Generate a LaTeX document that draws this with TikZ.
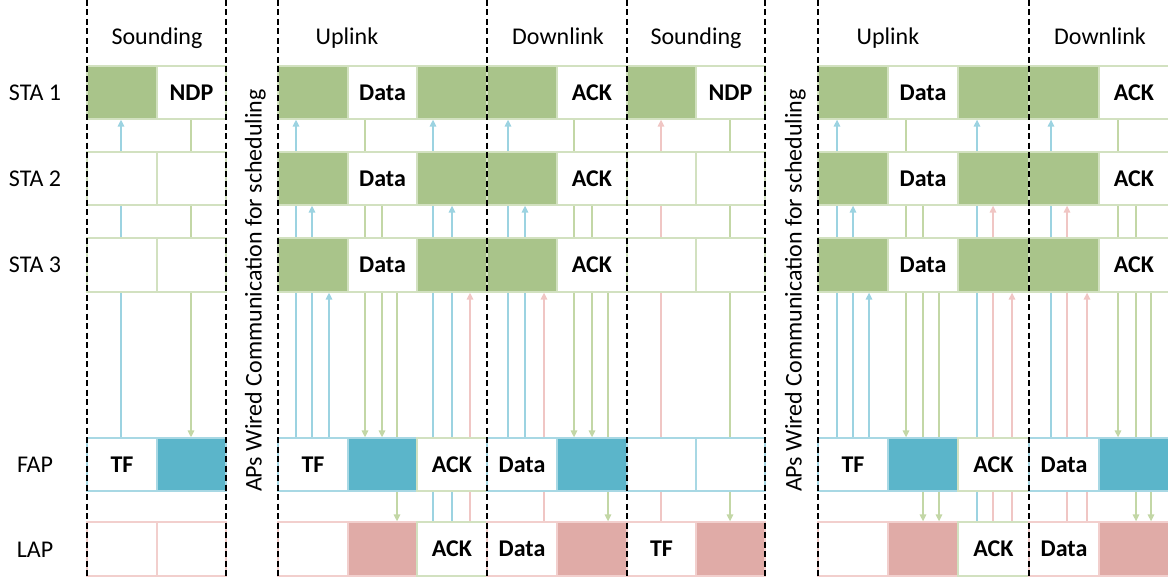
\documentclass[tikz,border=0pt]{standalone}
\usepackage{fontspec}
\setmainfont{Carlito}
\usetikzlibrary{arrows.meta}
\definecolor{gfill}{HTML}{A9C48A}
\definecolor{bfill}{HTML}{5BB5CA}
\definecolor{pfill}{HTML}{E0ABA7}
\definecolor{gline}{HTML}{D2E1C0}
\definecolor{bline}{HTML}{A8D8E4}
\definecolor{pline}{HTML}{F2CFCD}
\definecolor{abl}{HTML}{9CD3E1}
\definecolor{agr}{HTML}{C3D7A6}
\definecolor{apk}{HTML}{F0C6C4}
\pgfdeclarelayer{background}
\pgfsetlayers{background,main}
\newcommand{\cellbox}[7]{\node[cellbase,#6,minimum width={(#3-#2)*1pt},minimum height={(#5-#4)*1pt}] (#1) at ({(#2+#3)/2},{(#4+#5)/2}) {#7};}
\newcommand{\vconn}[6]{\path (#2,0) coordinate (vx); \draw[#1] (#3.#4 -| vx) -- (#5.#6 -| vx);}
\newcommand{\upsec}[5]{%
\cellbox{#11a}{#2}{#3}{66}{119}{sg}{}
\cellbox{#11b}{#3}{#4}{66}{119}{sw}{Data}
\cellbox{#11c}{#4}{#5}{66}{119}{sg}{}
\cellbox{#12a}{#2}{#3}{152}{205}{sg}{}
\cellbox{#12b}{#3}{#4}{152}{205}{sw}{Data}
\cellbox{#12c}{#4}{#5}{152}{205}{sg}{}
\cellbox{#13a}{#2}{#3}{238}{292}{sg}{}
\cellbox{#13b}{#3}{#4}{238}{292}{sw}{Data}
\cellbox{#13c}{#4}{#5}{238}{292}{sg}{}
\cellbox{#1Fa}{#2}{#3}{438}{491}{fw}{TF}
\cellbox{#1Fb}{#3}{#4}{438}{491}{fb}{}
\cellbox{#1Fc}{#4}{#5}{438}{491}{ackw}{ACK}
\cellbox{#1La}{#2}{#3}{522}{576}{lw}{}
\cellbox{#1Lb}{#3}{#4}{522}{576}{lp}{}
\cellbox{#1Lc}{#4}{#5}{522}{576}{ackw}{ACK}}
\newcommand{\downsec}[4]{%
\cellbox{#11a}{#2}{#3}{66}{119}{sg}{}
\cellbox{#11b}{#3}{#4}{66}{119}{sw}{ACK}
\cellbox{#12a}{#2}{#3}{152}{205}{sg}{}
\cellbox{#12b}{#3}{#4}{152}{205}{sw}{ACK}
\cellbox{#13a}{#2}{#3}{238}{292}{sg}{}
\cellbox{#13b}{#3}{#4}{238}{292}{sw}{ACK}
\cellbox{#1Fa}{#2}{#3}{438}{491}{fw}{Data}
\cellbox{#1Fb}{#3}{#4}{438}{491}{fb}{}
\cellbox{#1La}{#2}{#3}{522}{576}{lw}{Data}
\cellbox{#1Lb}{#3}{#4}{522}{576}{lp}{}}
\begin{document}
\begin{tikzpicture}[x=1pt,y=-1pt,
  cellbase/.style={draw,line width=1.3pt,inner sep=0pt,font=\fontsize{24}{28}\selectfont\bfseries},
  sg/.style={fill=gfill,draw=gline},
  sw/.style={fill=white,draw=gline},
  fb/.style={fill=bfill,draw=bline},
  fw/.style={fill=white,draw=bline},
  lp/.style={fill=pfill,draw=pline},
  lw/.style={fill=white,draw=pline},
  ackw/.style={fill=white,draw=gline},
  arr/.style={line width=1.5pt,-{Triangle[width=6.5pt,length=7pt]}},
  ab/.style={arr,draw=abl},
  ag/.style={arr,draw=agr},
  ap/.style={arr,draw=apk},
  lbl/.style={font=\fontsize{24}{28}\selectfont,anchor=base,inner sep=0pt},
  dashline/.style={line width=1.8pt,dash pattern=on 6pt off 3.5pt,black}]
\useasboundingbox (0,0) rectangle (1168,578);
% Sounding 1
\cellbox{A1a}{87}{157}{66}{119}{sg}{}
\cellbox{A1b}{157}{226}{66}{119}{sw}{NDP}
\cellbox{A2a}{87}{157}{152}{205}{sw}{}
\cellbox{A2b}{157}{226}{152}{205}{sw}{}
\cellbox{A3a}{87}{157}{238}{292}{sw}{}
\cellbox{A3b}{157}{226}{238}{292}{sw}{}
\cellbox{AFa}{87}{157}{438}{491}{fw}{TF}
\cellbox{AFb}{157}{226}{438}{491}{fb}{}
\cellbox{ALa}{87}{157}{522}{576}{lw}{}
\cellbox{ALb}{157}{226}{522}{576}{lw}{}
% Uplink 1, Downlink 1
\upsec{B}{278}{348}{417}{487}
\downsec{C}{487}{557}{627}
% Sounding 2
\cellbox{D1a}{627}{696}{66}{119}{sg}{}
\cellbox{D1b}{696}{765}{66}{119}{sw}{NDP}
\cellbox{D2a}{627}{696}{152}{205}{sw}{}
\cellbox{D2b}{696}{765}{152}{205}{sw}{}
\cellbox{D3a}{627}{696}{238}{292}{sw}{}
\cellbox{D3b}{696}{765}{238}{292}{sw}{}
\cellbox{DFa}{627}{696}{438}{491}{fw}{}
\cellbox{DFb}{696}{765}{438}{491}{fw}{}
\cellbox{DLa}{627}{696}{522}{576}{lw}{TF}
\cellbox{DLb}{696}{765}{522}{576}{lp}{}
% Uplink 2, Downlink 2
\upsec{E}{818}{888}{958}{1029}
\downsec{G}{1029}{1099}{1169}
% connectors (behind the boxes)
\begin{pgfonlayer}{background}
\vconn{ab}{121}{AFa}{north}{A1a}{south}
\vconn{ag}{191}{A1b}{south}{AFb}{north}
\vconn{ab}{296}{BFa}{north}{B1a}{south}
\vconn{ab}{312}{BFa}{north}{B2a}{south}
\vconn{ab}{329}{BFa}{north}{B3a}{south}
\vconn{ag}{365}{B1b}{south}{BFb}{north}
\vconn{ag}{382}{B2b}{south}{BFb}{north}
\vconn{ag}{397}{B3b}{south}{BLb}{north}
\vconn{ab}{433}{BLc}{north}{B1c}{south}
\vconn{ab}{452}{BLc}{north}{B2c}{south}
\vconn{ap}{470}{BLc}{north}{B3c}{south}
\vconn{ab}{508}{CFa}{north}{C1a}{south}
\vconn{ab}{525}{CFa}{north}{C2a}{south}
\vconn{ap}{544}{CLa}{north}{C3a}{south}
\vconn{ag}{574}{C1b}{south}{CFb}{north}
\vconn{ag}{592}{C2b}{south}{CFb}{north}
\vconn{ag}{608}{C3b}{south}{CLb}{north}
\vconn{ap}{661}{DLa}{north}{D1a}{south}
\vconn{ag}{730}{D1b}{south}{DLb}{north}
\vconn{ab}{837}{EFa}{north}{E1a}{south}
\vconn{ab}{853}{EFa}{north}{E2a}{south}
\vconn{ab}{869}{EFa}{north}{E3a}{south}
\vconn{ag}{906}{E1b}{south}{EFb}{north}
\vconn{ag}{923}{E2b}{south}{ELb}{north}
\vconn{ag}{939}{E3b}{south}{ELb}{north}
\vconn{ab}{977}{ELc}{north}{E1c}{south}
\vconn{ap}{993}{ELc}{north}{E2c}{south}
\vconn{ap}{1012}{ELc}{north}{E3c}{south}
\vconn{ab}{1051}{GFa}{north}{G1a}{south}
\vconn{ap}{1067}{GLa}{north}{G2a}{south}
\vconn{ap}{1087}{GLa}{north}{G3a}{south}
\vconn{ag}{1118}{G1b}{south}{GFb}{north}
\vconn{ag}{1136}{G2b}{south}{GLb}{north}
\vconn{ag}{1151}{G3b}{south}{GLb}{north}
\end{pgfonlayer}
% dashed phase separators
\foreach \x in {87,226,278,487,627,765,818,1029}
  \draw[dashline] (\x,0) -- (\x,578);
% phase titles
\node[lbl] (t1) at (157,45) {Sounding};
\node[lbl] (t2) at (347,45) {Uplink};
\node[lbl] (t3) at (558,45) {Downlink};
\node[lbl] (t4) at (696,45) {Sounding};
\node[lbl] (t5) at (888,45) {Uplink};
\node[lbl] (t6) at (1100,45) {Downlink};
% row labels
\node[lbl] (r1) at (35,100.5) {STA 1};
\node[lbl] (r2) at (35,186.5) {STA 2};
\node[lbl] (r3) at (35,272.5) {STA 3};
\node[lbl] (r4) at (35,472.5) {FAP};
\node[lbl] (r5) at (35,557) {LAP};
% wired communication
\node[lbl,rotate=90] (w1) at (261.5,290.5) {APs Wired Communication for scheduling};
\node[lbl,rotate=90] (w2) at (801.5,290.5) {APs Wired Communication for scheduling};
\end{tikzpicture}
\end{document}
